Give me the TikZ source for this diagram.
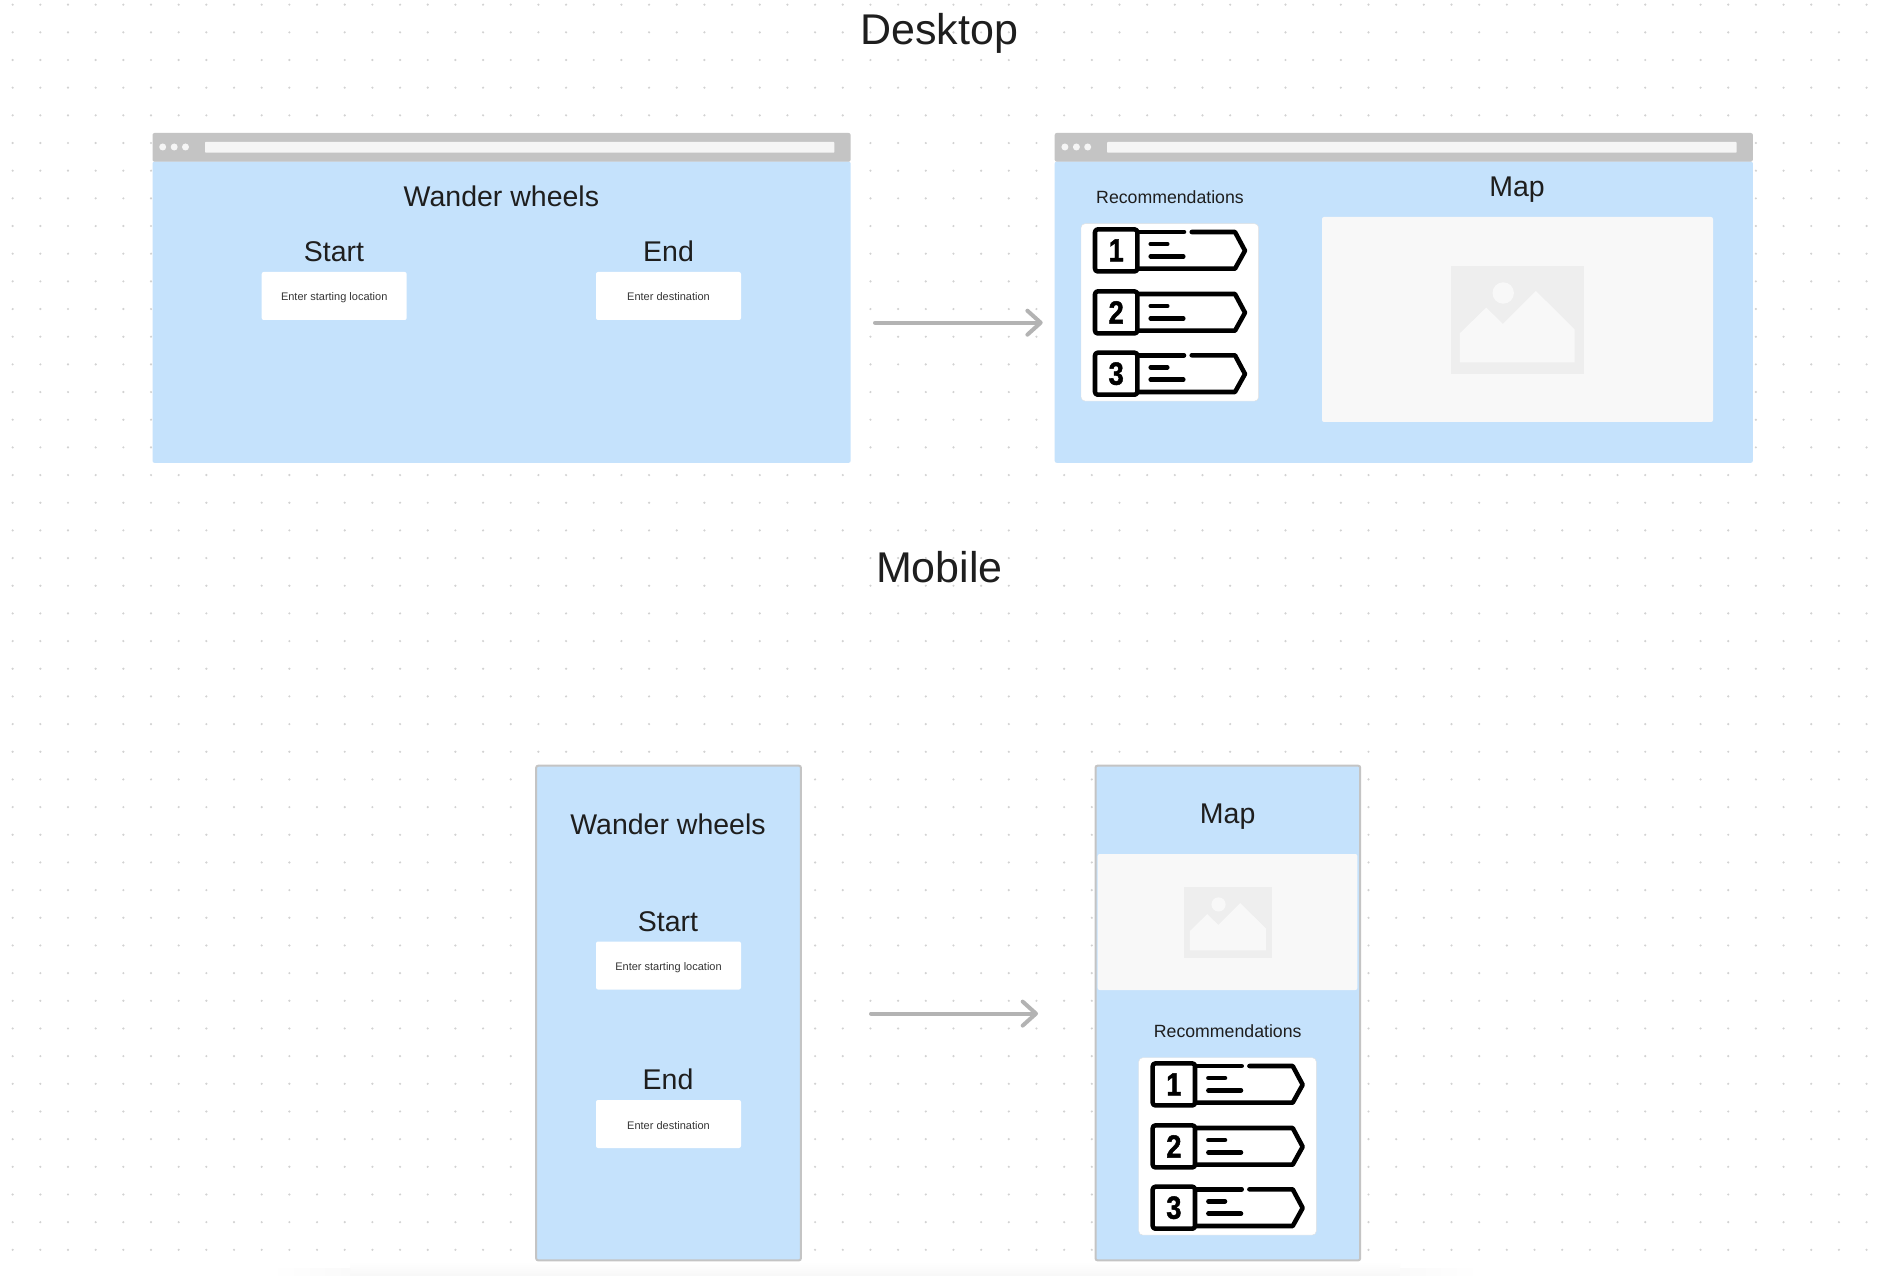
\documentclass[tikz,border=0pt]{standalone}
\usepackage{fontspec}
\usepackage{graphicx}
\setmainfont{Liberation Sans}
\newfontfamily\digitfont[FakeBold=1.6]{Liberation Sans Bold}
\usetikzlibrary{arrows.meta}
\definecolor{panelblue}{HTML}{C5E2FC}
\definecolor{barGray}{HTML}{C4C4C4}
\definecolor{barLight}{HTML}{F5F5F5}
\definecolor{mapFill}{HTML}{F8F8F8}
\definecolor{iconFill}{HTML}{EEEEEE}
\definecolor{ink}{HTML}{1E1E1E}
\definecolor{dotGray}{HTML}{D2D2D2}
\definecolor{arrowGray}{HTML}{B3B3B3}
\newcommand{\fs}[1]{\fontsize{\dimexpr #1pt*3/4\relax}{\dimexpr #1pt*9/10\relax}\selectfont}
\tikzset{
  x=0.75pt,y=-0.75pt,
  box/.style={anchor=north west,inner sep=0pt,outer sep=0pt,rounded corners=1.5pt},
  panel/.style={box,fill=panelblue},
  mobilepanel/.style={box,fill=panelblue,draw=barGray,line width=1.5pt},
  titlebar/.style={box,fill=barGray},
  addressbar/.style={box,fill=barLight,rounded corners=0.5pt},
  inputbox/.style={box,fill=white,minimum width=108.75pt,minimum height=36pt},
  mapbox/.style={box,fill=mapFill},
  cardbox/.style={box,fill=white,rounded corners=3pt,draw=black!12,line width=0.3pt,minimum width=133.2pt,minimum height=133pt},
  heading/.style={text=ink,font=\fs{43},inner sep=0pt},
  sub/.style={text=ink,font=\fs{28.5},inner sep=0pt},
  rectitle/.style={text=ink,font=\fs{17.7},inner sep=0pt},
  hint/.style={text=ink!90,font=\fs{11},inner sep=0pt},
  digit/.style={text=black,font=\digitfont\fs{32},inner sep=0pt},
  stroke/.style={draw=black,line width=3.4pt,line cap=round,line join=round},
  flowarrow/.style={draw=arrowGray,line width=3pt,line cap=round,-{Straight Barb[length=10pt,width=18pt,round]}},
}
% #1 prefix, #2 digit, #3 dy, #4 gap
\newcommand{\recrow}[4]{%
  \begin{scope}[shift={(0,#3)}]
    \ifnum#4=1
      \draw[stroke] (56.3,8.3) -- (103,8.3);
      \draw[stroke] (110.7,8.3) -- (154,8.3) -- (164,27) -- (154,45) -- (56.3,45);
    \else
      \draw[stroke] (56.3,8.3) -- (154,8.3) -- (164,27) -- (154,45) -- (56.3,45);
    \fi
    \draw[stroke,rounded corners=2pt,fill=white] (14,5.7) rectangle (56.3,47.7);
    \draw[stroke] (69.7,20.3) -- (86.3,20.3);
    \draw[stroke] (69.7,32.7) -- (102.3,32.7);
    \node[digit] (#1) at (35.2,26.7) {\scalebox{0.85}[1]{#2}};
  \end{scope}}
% #1 name, #2 x, #3 y
\newcommand{\reccard}[3]{%
  \begin{scope}[shift={(#2,#3)}]
    \node[cardbox] (#1) at (0,0) {};
    \recrow{#1a}{1}{0}{1}
    \recrow{#1b}{2}{62}{0}
    \recrow{#1c}{3}{123.3}{1}
  \end{scope}}
% #1 x, #2 y, #3 scale
\newcommand{\mapicon}[3]{%
  \begin{scope}[shift={(#1,#2)},scale=#3]
    \fill[iconFill] (0,0) rectangle (132.3,107.7);
    \fill[mapFill] (8.7,67) -- (35,41.3) -- (51.7,57.7) -- (84.7,24.7) -- (123.3,63) -- (123.3,96) -- (8.7,96) -- cycle;
    \fill[mapFill] (52,26.7) circle (10.7);
  \end{scope}}
% #1 name, #2 x
\newcommand{\browserbar}[2]{%
  \node[titlebar,minimum width=523.6pt,minimum height=21.5pt] (#1) at (#2,133) {};
  \fill[barLight] (#2+10.2,147) circle (3.5) (#2+21.7,147) circle (3.5) (#2+33,147) circle (3.5);
  \node[addressbar,minimum width=472pt,minimum height=8pt] (#1addr) at (#2+52.5,142) {};}
\begin{document}
\begin{tikzpicture}
\useasboundingbox (0,0) rectangle (1892,1276);
\fill[white] (0,0) rectangle (1892,1276);
% faint shadow at the bottom
\shade[top color=white,bottom color=black!3] (350,1262) rectangle (1400,1276);
\shade[left color=white,right color=black!2] (270,1268) rectangle (350,1276);
\shade[right color=white,left color=black!2] (1400,1268) rectangle (1480,1276);
% dot grid
\foreach \i in {0,...,68}{
  \foreach \j in {0,...,46}{
    \fill[dotGray] (12.67+27.67*\i,4.67+27.67*\j) circle (1.2);
  }}
% headings
\node[heading] (desktop) at (939.4,33) {Desktop};
\node[heading] (mobile) at (939.4,567) {Mobile};
% desktop window 1
\node[panel,minimum width=523.6pt,minimum height=226pt] (win1) at (152.5,161.5) {};
\browserbar{bar1}{152.5}
\node[sub] (w1title) at (501.4,196) {Wander wheels};
\node[sub] (w1start) at (334,251.5) {Start};
\node[sub] (w1end) at (668.5,251.5) {End};
\node[inputbox] (w1in1) at (261.7,272) {};
\node[hint] at ([yshift=-1.1pt]w1in1.center) {Enter starting location};
\node[inputbox] (w1in2) at (596,272) {};
\node[hint] at ([yshift=-0.6pt]w1in2.center) {Enter destination};
% desktop window 2
\node[panel,minimum width=523.6pt,minimum height=226pt] (win2) at (1054.7,161.5) {};
\browserbar{bar2}{1054.7}
\node[rectitle] (w2rec) at (1170,197) {Recommendations};
\reccard{card1}{1081}{223.7}
\node[sub] (w2map) at (1517,189.4) {Map};
\node[mapbox,minimum width=293.25pt,minimum height=153.75pt] (map1) at (1322,217) {};
\mapicon{1451.2}{266.3}{1}
% desktop arrow
\coordinate (a1s) at (875,322.7);
\coordinate (a1e) at (1042.7,322.7);
\draw[flowarrow] (a1s) -- (a1e);
% mobile window 1
\node[mobilepanel,minimum width=198.5pt,minimum height=371pt] (mw1) at (536.2,765.7) {};
\node[sub] (m1title) at (668,824.5) {Wander wheels};
\node[sub] (m1start) at (668,921.2) {Start};
\node[inputbox] (m1in1) at (596,941.5) {};
\node[hint] at ([yshift=-1.5pt]m1in1.center) {Enter starting location};
\node[sub] (m1end) at (668,1079.4) {End};
\node[inputbox] (m1in2) at (596,1100) {};
\node[hint] at ([yshift=-0.8pt]m1in2.center) {Enter destination};
% mobile window 2
\node[mobilepanel,minimum width=198.5pt,minimum height=371pt] (mw2) at (1095.5,765.7) {};
\node[sub] (m2map) at (1227.7,817) {Map};
\node[mapbox,minimum width=194.7pt,minimum height=102pt] (map2) at (1097.7,854) {};
\mapicon{1184}{886.7}{0.664}
\node[rectitle] (m2rec) at (1227.7,1030.7) {Recommendations};
\reccard{card2}{1138.7}{1057.7}
% mobile arrow
\coordinate (a2s) at (871,1013.6);
\coordinate (a2e) at (1038,1013.6);
\draw[flowarrow] (a2s) -- (a2e);
\end{tikzpicture}
\end{document}
